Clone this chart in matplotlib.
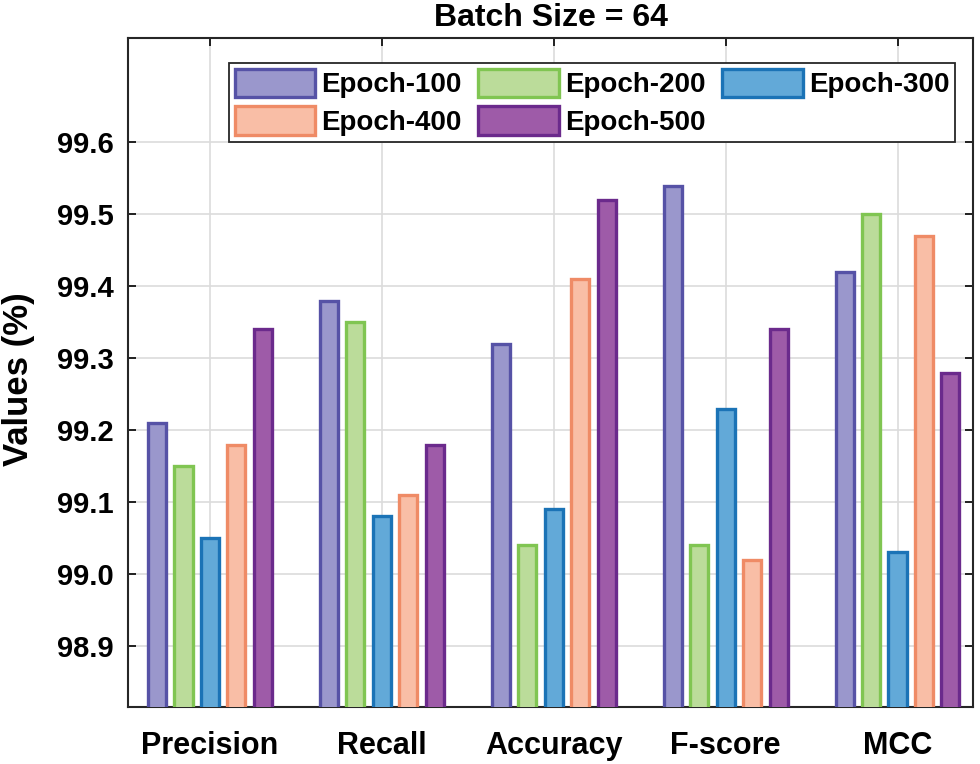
import numpy as np
import matplotlib
matplotlib.use("Agg")
from matplotlib import pyplot as plt

plt.rcParams['font.family'] = ['Liberation Sans', 'DejaVu Sans']
plt.rcParams['font.weight'] = 'bold'

metrics = ['Precision', 'Recall', 'Accuracy', 'F-score', 'MCC']
epochs = ['Epoch-100', 'Epoch-200', 'Epoch-300', 'Epoch-400', 'Epoch-500']

epoch_100 = [99.21, 99.38, 99.32, 99.54, 99.42]
epoch_200 = [99.15, 99.35, 99.04, 99.04, 99.50]
epoch_300 = [99.05, 99.08, 99.09, 99.23, 99.03]
epoch_400 = [99.18, 99.11, 99.41, 99.02, 99.47]
epoch_500 = [99.34, 99.18, 99.52, 99.34, 99.28]

yticks = [98.9, 99.0, 99.1, 99.2, 99.3, 99.4, 99.5, 99.6]

faces = ['#9a97cc', '#bbdc9a', '#62a9d8', '#f9bea6', '#9e5ba8']
edges = ['#5652a6', '#80c552', '#1b73b6', '#ef8b66', '#6b2a8c']

series = [epoch_100, epoch_200, epoch_300, epoch_400, epoch_500]

fig = plt.figure(figsize=(9.8, 7.64), dpi=100)
ax = fig.add_axes([0.1306, 0.0746, 0.8624, 0.8754])

x = np.arange(1, len(metrics) + 1)
step = 0.154
width = 0.105
bottom = 98.8
bars = []
for i, vals in enumerate(series):
	h = np.array(vals) - bottom
	b = ax.bar(x + (i - 2) * step, h, width, bottom=bottom, color=faces[i],
			   edgecolor=edges[i], linewidth=2.4, label=epochs[i], zorder=3)
	bars.append(b)

ax.set_xlim(0.523, 5.44)
ax.set_ylim(98.815, 99.745)
ax.set_xticks(x)
ax.set_xticklabels(metrics)
ax.set_yticks(yticks)
ax.set_yticklabels(['%.1f' % t for t in yticks])
ax.tick_params(axis='both', direction='in', top=True, right=True, length=6,
			   width=1.2)
ax.tick_params(axis='x', labelsize=22, pad=17)
ax.tick_params(axis='y', labelsize=21, pad=10)
ax.grid(True, color='#dcdcdc', linewidth=1.2, zorder=0)
for s in ax.spines.values():
	s.set_linewidth(1.5)
	s.set_color('#262626')

ax.set_ylabel('Values (%)', fontsize=25, fontweight='bold')
ax.yaxis.set_label_coords(-0.11, 0.49)
ax.set_title('Batch Size = 64', fontsize=23, fontweight='bold', pad=9)

# row-wise order for a 3-column legend
order = [0, 3, 1, 4, 2]
leg = ax.legend([bars[k] for k in order], [epochs[k] for k in order],
				ncol=3, loc='upper left', bbox_to_anchor=(0.1195, 0.963),
				borderaxespad=0, fontsize=20, handlelength=2.9, handleheight=1.2,
				handletextpad=0.22, columnspacing=0.6, borderpad=0.2, labelspacing=0.3,
				fancybox=False, framealpha=1, edgecolor='#262626')
leg.get_frame().set_linewidth(1.3)

fig.savefig('out.png', dpi=100)
